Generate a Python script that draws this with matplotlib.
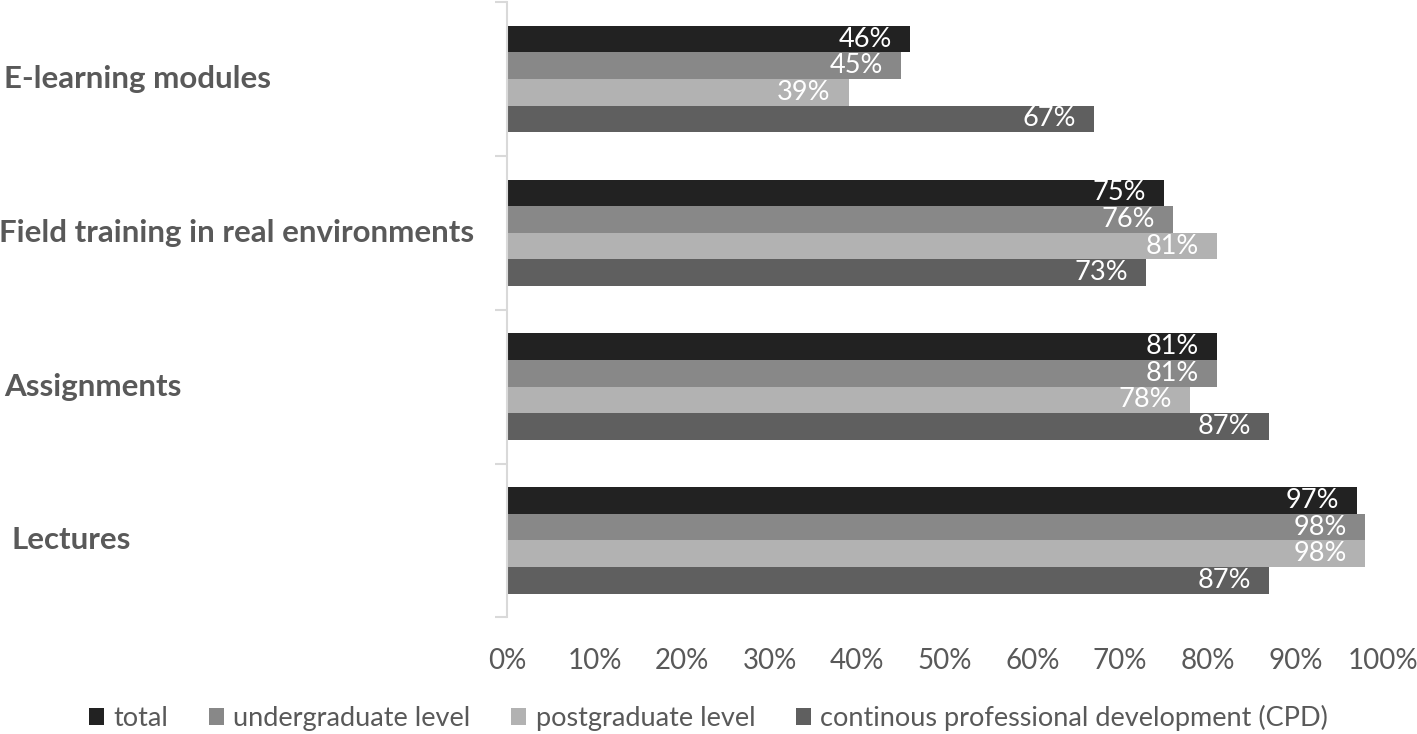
import matplotlib
matplotlib.use("Agg")
import matplotlib.pyplot as plt
import matplotlib.transforms as mtransforms
from matplotlib.patches import Patch

categories = ["E-learning modules", "Field training in real environments", "Assignments", "Lectures"]
series_names = ["total", "undergraduate level", "postgraduate level",
                "continous professional development (CPD)"]
total = [46, 75, 81, 97]
undergraduate = [45, 76, 81, 98]
postgraduate = [39, 81, 78, 98]
cpd = [67, 73, 87, 87]
xticks = [0, 10, 20, 30, 40, 50, 60, 70, 80, 90, 100]

colors = ["#222222", "#888888", "#b2b2b2", "#5f5f5f"]
font = "Lato"
text_grey = "#595959"

fig = plt.figure(figsize=(14.17, 7.34), dpi=100)
ax = fig.add_axes([0.3578, 0.159, 0.976 - 0.3578, 0.838])

h = 0.173
series = [total, undergraduate, postgraduate, cpd]
for k, vals in enumerate(series):
    for i, v in enumerate(vals):
        y = i + (k - 1.5) * h
        ax.barh(y, v, height=h, color=colors[k], edgecolor="none")
        ax.annotate(f"{v}%", xy=(v, y), xytext=(-13, 0), textcoords="offset points",
                    ha="right", va="center", color="white", fontsize=19.5,
                    family=font)

ax.set_xlim(0, 100)
ax.set_ylim(len(categories) - 0.5, -0.5)
ax.set_xticks(xticks)
ax.set_xticklabels([f"{t}%" for t in xticks], fontsize=20, color=text_grey, family=font)
ax.tick_params(axis="x", length=0, pad=22)
ax.set_yticks([i - 0.5 for i in range(len(categories) + 1)])
ax.set_yticklabels([])
ax.tick_params(axis="y", length=9, width=1.5, color="#d9d9d9", direction="out")
for s in ["top", "right", "bottom"]:
    ax.spines[s].set_visible(False)
ax.spines["left"].set_color("#d9d9d9")
ax.spines["left"].set_linewidth(1.5)

# category labels, left side of figure
label_x = [0.003, -0.001, 0.003, 0.008]
trans = mtransforms.blended_transform_factory(fig.transFigure, ax.transData)
for i, c in enumerate(categories):
    ax.text(label_x[i], i, c, transform=trans, ha="left", va="center",
            fontsize=22.5, fontweight="bold", color=text_grey, family=font,
            clip_on=False)

handles = [Patch(facecolor=colors[k], edgecolor="none") for k in range(4)]
fig.legend(handles, series_names, loc="center", bbox_to_anchor=(0.5, 0.022), ncol=4,
           frameon=False, handlelength=0.55, handleheight=0.6, handletextpad=0.35,
           columnspacing=1.5, prop={"family": font, "size": 19.5},
           labelcolor=text_grey)

fig.savefig("out.png", dpi=100)
